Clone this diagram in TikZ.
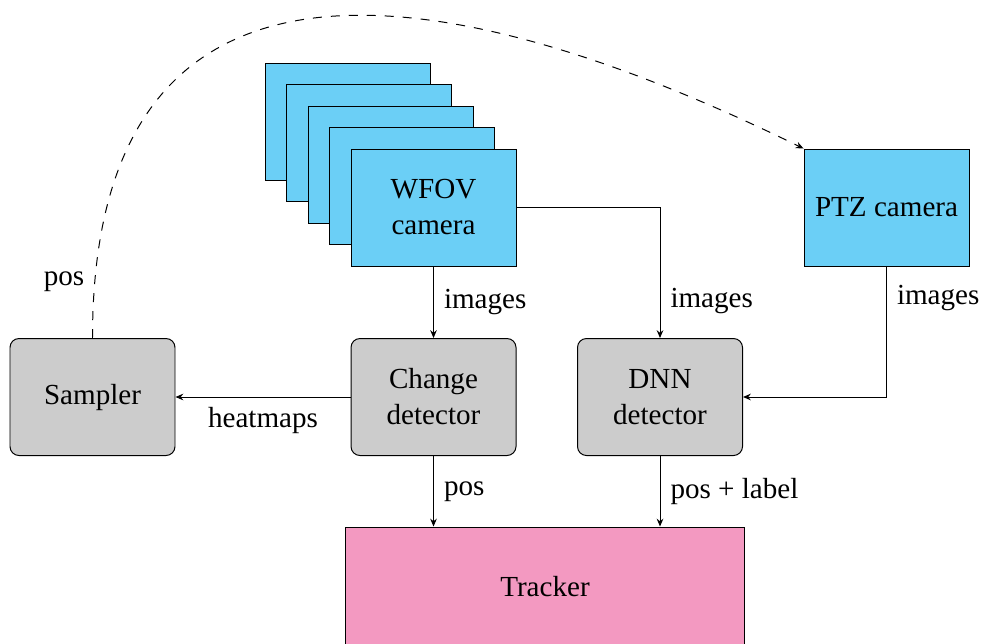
\documentclass[tikz,border=0pt]{standalone}
\usepackage{fontspec}
\setmainfont{Liberation Serif}
\usetikzlibrary{arrows.meta}
\definecolor{camblue}{RGB}{107,207,246}
\definecolor{boxgray}{RGB}{204,204,204}
\definecolor{trackpink}{RGB}{243,153,193}
\begin{document}
\begin{tikzpicture}[x=0.33333pt,y=-0.33333pt,line width=0.33pt,
  every node/.style={font=\fontsize{9.7pt}{12pt}\selectfont},
  cam/.style={draw=black,fill=camblue,minimum width=55pt,minimum height=39pt,inner sep=0pt,align=center},
  proc/.style={draw=black,fill=boxgray,rounded corners=3pt,minimum width=55pt,minimum height=39pt,inner sep=0pt,align=center},
  track/.style={draw=black,fill=trackpink,minimum width=132.7pt,minimum height=40pt,inner sep=0pt,align=center},
  flow/.style={-{Stealth[length=2.6pt,width=2.2pt]}}
]
\useasboundingbox (0,0) rectangle (985,643);
% stacked WFOV cameras
\node[cam] (c1) at (347.5,121.5) {};
\node[cam] (c2) at (369,143) {};
\node[cam] (c3) at (390.5,164.5) {};
\node[cam] (c4) at (412,186) {};
\node[cam] (wfov) at (433.5,207.5) {WFOV\\camera};
\node[cam] (ptz) at (886.5,207.5) {PTZ camera};
\node[proc] (sampler) at (92.5,397) {Sampler};
\node[proc] (change) at (433.5,397) {Change\\detector};
\node[proc] (dnn) at (660,397) {DNN\\detector};
\node[track] (tracker) at (545,587) {Tracker};

\draw[flow] (wfov.south) -- node[right] {images} (change.north);
\draw[flow] (wfov.east) -| node[pos=0.86,right] {images} (dnn.north);
\draw[flow] (ptz.south) |- node[pos=0.12,right] {images} (dnn.east);
\draw[flow] (change.west) -- node[below] {heatmaps} (sampler.east);
\draw[flow] (change.south) -- node[right] {pos} (change.south |- tracker.north);
\draw[flow] (dnn.south) -- node[right] {pos + label} (dnn.south |- tracker.north);
\draw[flow,dashed] (sampler.north) .. controls (92.5,-60) and (404,-47) .. node[pos=0.05,left] {pos} (ptz.north west);
\end{tikzpicture}
\end{document}
